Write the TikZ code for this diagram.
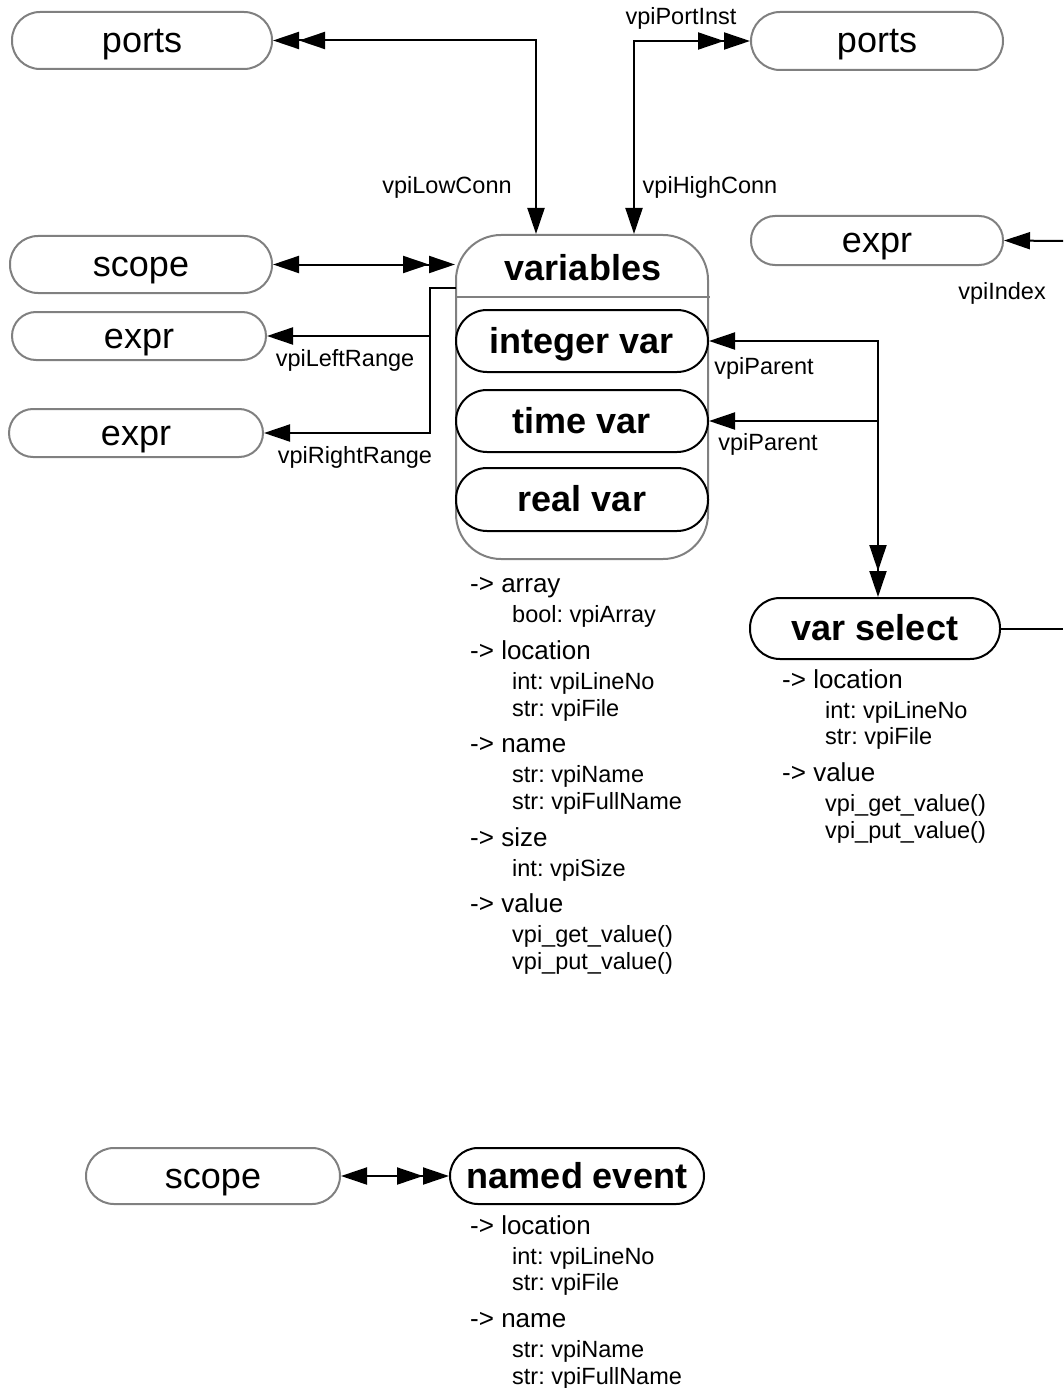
\documentclass[tikz,border=0pt]{standalone}
\usepackage{fontspec}
\setmainfont{Liberation Sans}
\usetikzlibrary{arrows.meta}
\frenchspacing
\begin{document}
\begin{tikzpicture}[x=1pt,y=-1pt,
  Tri/.tip={Triangle[length=26pt,width=17pt]},
  DTri/.tip={Triangle[length=26pt,width=17pt]Triangle[length=26pt,width=17pt]},
  obj/.style={draw=gray, line width=2pt, inner sep=0pt,
    font=\fontsize{36}{40}\selectfont, text height=29pt, text depth=5pt},
  cls/.style={draw=black, line width=2pt, inner sep=0pt,
    font=\fontsize{36}{40}\selectfont\bfseries, text height=29pt, text depth=5pt},
  conn/.style={line width=2pt, draw=black},
  lbl/.style={font=\fontsize{23.5}{26}\selectfont, inner sep=0pt},
  attr/.style={font=\fontsize{26}{28}\selectfont, anchor=base west, inner sep=0pt},
  subattr/.style={font=\fontsize{23.5}{26}\selectfont, anchor=base west, inner sep=0pt}
]
\useasboundingbox (0,0) rectangle (1063,1388);

% object boxes (gray)
\node[obj, minimum width=260pt, minimum height=57pt, rounded corners=28pt] (portsL) at (142,40.5) {ports};
\node[obj, minimum width=252pt, minimum height=58pt, rounded corners=29pt] (portsR) at (877,41) {ports};
\node[obj, minimum width=262pt, minimum height=57pt, rounded corners=28pt] (scopeL) at (141,264.5) {scope};
\node[obj, minimum width=254pt, minimum height=48pt, rounded corners=24pt] (expr1) at (139,336) {expr};
\node[obj, minimum width=254pt, minimum height=48pt, rounded corners=24pt] (expr2) at (136,433) {expr};
\node[obj, minimum width=252pt, minimum height=49pt, rounded corners=24pt] (exprR) at (877,240.5) {expr};
\node[obj, minimum width=254pt, minimum height=56pt, rounded corners=28pt] (scopeB) at (213,1176) {scope};

% variables group
\node[draw=gray, line width=2pt, minimum width=252pt, minimum height=324pt, rounded corners=45pt, inner sep=0pt] (varbox) at (582,397) {};
\node[cls, draw=none] (vartitle) at (583,268) {variables};
\draw[gray, line width=2pt] (456,297) -- (710,297);
\node[cls, minimum width=252pt, minimum height=62pt, rounded corners=31pt] (intvar) at (582,341) {integer var};
\node[cls, minimum width=252pt, minimum height=62pt, rounded corners=31pt] (timevar) at (582,421) {time var};
\node[cls, minimum width=252pt, minimum height=63pt, rounded corners=31pt] (realvar) at (582,499.5) {real var};

% class boxes
\node[cls, minimum width=250pt, minimum height=61pt, rounded corners=30pt] (varsel) at (875,628.5) {var select};
\node[cls, minimum width=254pt, minimum height=56pt, rounded corners=28pt] (nevent) at (577,1176) {named event};

% helper coordinates
\coordinate (lowx) at (536,0);
\coordinate (highx) at (634,0);
\coordinate (px) at (878,0);
\coordinate (rs) at (456,288);
\coordinate (rb) at (430,288);
\coordinate (eR) at (1063,241);
\coordinate (vR) at (1063,628.5);

% connectors
\draw[conn, {DTri}-{Tri}] (portsL.east) -| (varbox.north -| lowx);
\draw[conn, {Tri}-{DTri}] (varbox.north -| highx) |- (portsR.west);
\draw[conn, {Tri}-{DTri}] (scopeL.east) -- (scopeL.east -| varbox.west);
\draw[conn, -{Tri}] (rs) -- (rb) |- (expr2.east);
\draw[conn, -{Tri}] (rb |- expr1.east) -- (expr1.east);
\draw[conn, {Tri}-{DTri}] (intvar.east) -| (varsel.north -| px);
\draw[conn, -{Tri}] (px |- timevar.east) -- (timevar.east);
\draw[conn, -{Tri}] (eR) -- (exprR.east);
\draw[conn] (varsel.east) -- (vR);
\draw[conn, {Tri}-{DTri}] (scopeB.east) -- (nevent.west);

% connector labels
\node[lbl] (lPortInst) at (681,18) {vpiPortInst};
\node[lbl] (lLow) at (447,187) {vpiLowConn};
\node[lbl] (lHigh) at (710,187) {vpiHighConn};
\node[lbl] (lLeft) at (345,360) {vpiLeftRange};
\node[lbl] (lRight) at (355,457) {vpiRightRange};
\node[lbl] (lIndex) at (1002,293) {vpiIndex};
\node[lbl] (lPar1) at (764,368) {vpiParent};
\node[lbl] (lPar2) at (768,444) {vpiParent};

% variables attributes
\node[attr] (va1) at (470,592) {-> array};
\node[subattr] (va2) at (512,622) {bool: vpiArray};
\node[attr] (va3) at (470,659) {-> location};
\node[subattr] (va4) at (512,689) {int: vpiLineNo};
\node[subattr] (va5) at (512,716) {str: vpiFile};
\node[attr] (va6) at (470,752) {-> name};
\node[subattr] (va7) at (512,782) {str: vpiName};
\node[subattr] (va8) at (512,809) {str: vpiFullName};
\node[attr] (va9) at (470,846) {-> size};
\node[subattr] (va10) at (512,876) {int: vpiSize};
\node[attr] (va11) at (470,912) {-> value};
\node[subattr] (va12) at (512,942) {vpi\_get\_value()};
\node[subattr] (va13) at (512,969) {vpi\_put\_value()};

% var select attributes
\node[attr] (vs1) at (782,688) {-> location};
\node[subattr] (vs2) at (825,718) {int: vpiLineNo};
\node[subattr] (vs3) at (825,744) {str: vpiFile};
\node[attr] (vs4) at (782,781) {-> value};
\node[subattr] (vs5) at (825,811) {vpi\_get\_value()};
\node[subattr] (vs6) at (825,838) {vpi\_put\_value()};

% named event attributes
\node[attr] (ne1) at (470,1234) {-> location};
\node[subattr] (ne2) at (512,1264) {int: vpiLineNo};
\node[subattr] (ne3) at (512,1290) {str: vpiFile};
\node[attr] (ne4) at (470,1327) {-> name};
\node[subattr] (ne5) at (512,1357) {str: vpiName};
\node[subattr] (ne6) at (512,1384) {str: vpiFullName};
\end{tikzpicture}
\end{document}
